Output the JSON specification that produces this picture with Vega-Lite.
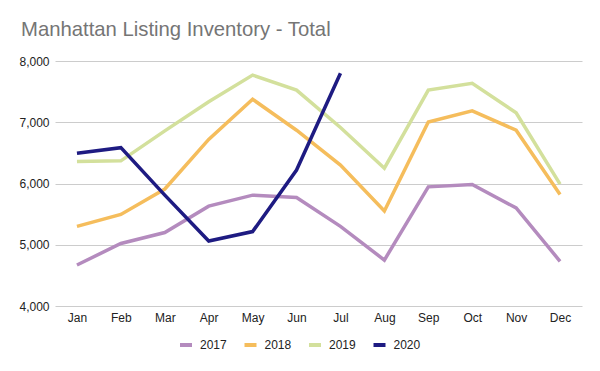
{
  "$schema": "https://vega.github.io/schema/vega-lite/v6.json",
  "width": 527,
  "height": 245,
  "autosize": {"type": "none"},
  "padding": {"left": 55, "top": 61, "right": 18, "bottom": 65},
  "background": "white",
  "title": {
    "text": "Manhattan Listing Inventory - Total",
    "anchor": "start",
    "frame": "group",
    "dx": -34,
    "offset": -1,
    "baseline": "alphabetic",
    "font": "Liberation Sans",
    "fontSize": 20.3,
    "fontWeight": "normal",
    "color": "#757575"
  },
  "config": {
    "view": {"stroke": null},
    "font": "Liberation Sans",
    "axis": {
      "labelFont": "Liberation Sans",
      "labelFontSize": 12,
      "labelColor": "#222222",
      "domain": false,
      "ticks": false,
      "gridColor": "#cccccc",
      "gridWidth": 1,
      "title": null
    },
    "legend": {
      "labelFont": "Liberation Sans",
      "labelFontSize": 12,
      "labelColor": "#222222"
    }
  },
  "data": {
    "values": [
      {"month": "Jan", "year": "2017", "value": 4670},
      {"month": "Feb", "year": "2017", "value": 5020},
      {"month": "Mar", "year": "2017", "value": 5200},
      {"month": "Apr", "year": "2017", "value": 5630},
      {"month": "May", "year": "2017", "value": 5810},
      {"month": "Jun", "year": "2017", "value": 5770},
      {"month": "Jul", "year": "2017", "value": 5300},
      {"month": "Aug", "year": "2017", "value": 4750},
      {"month": "Sep", "year": "2017", "value": 5945},
      {"month": "Oct", "year": "2017", "value": 5985},
      {"month": "Nov", "year": "2017", "value": 5600},
      {"month": "Dec", "year": "2017", "value": 4730},
      {"month": "Jan", "year": "2018", "value": 5300},
      {"month": "Feb", "year": "2018", "value": 5495},
      {"month": "Mar", "year": "2018", "value": 5910},
      {"month": "Apr", "year": "2018", "value": 6720},
      {"month": "May", "year": "2018", "value": 7375},
      {"month": "Jun", "year": "2018", "value": 6870},
      {"month": "Jul", "year": "2018", "value": 6300},
      {"month": "Aug", "year": "2018", "value": 5550},
      {"month": "Sep", "year": "2018", "value": 7005},
      {"month": "Oct", "year": "2018", "value": 7185},
      {"month": "Nov", "year": "2018", "value": 6870},
      {"month": "Dec", "year": "2018", "value": 5820},
      {"month": "Jan", "year": "2019", "value": 6360},
      {"month": "Feb", "year": "2019", "value": 6370},
      {"month": "Mar", "year": "2019", "value": 6860},
      {"month": "Apr", "year": "2019", "value": 7335},
      {"month": "May", "year": "2019", "value": 7770},
      {"month": "Jun", "year": "2019", "value": 7525},
      {"month": "Jul", "year": "2019", "value": 6915},
      {"month": "Aug", "year": "2019", "value": 6250},
      {"month": "Sep", "year": "2019", "value": 7525},
      {"month": "Oct", "year": "2019", "value": 7635},
      {"month": "Nov", "year": "2019", "value": 7155},
      {"month": "Dec", "year": "2019", "value": 5990},
      {"month": "Jan", "year": "2020", "value": 6495},
      {"month": "Feb", "year": "2020", "value": 6585},
      {"month": "Mar", "year": "2020", "value": 5810},
      {"month": "Apr", "year": "2020", "value": 5060},
      {"month": "May", "year": "2020", "value": 5215},
      {"month": "Jun", "year": "2020", "value": 6220},
      {"month": "Jul", "year": "2020", "value": 7800}
    ]
  },
  "mark": {"type": "line", "strokeWidth": 3.5, "strokeJoin": "miter", "strokeCap": "butt"},
  "encoding": {
    "x": {
      "field": "month",
      "type": "ordinal",
      "sort": ["Jan", "Feb", "Mar", "Apr", "May", "Jun", "Jul", "Aug", "Sep", "Oct", "Nov", "Dec"],
      "scale": {"type": "point", "padding": 0.5},
      "axis": {"labelAngle": 0, "labelPadding": 6, "grid": false}
    },
    "y": {
      "field": "value",
      "type": "quantitative",
      "scale": {"domain": [4000, 8000], "nice": false, "zero": false},
      "axis": {"values": [4000, 5000, 6000, 7000, 8000], "format": ",d", "labelPadding": 6, "grid": true}
    },
    "color": {
      "field": "year",
      "type": "nominal",
      "scale": {
        "domain": ["2017", "2018", "2019", "2020"],
        "range": ["#b48bbe", "#f5bd5c", "#d3e09c", "#1e1b82"]
      },
      "legend": {
        "title": null,
        "orient": "none",
        "direction": "horizontal",
        "legendX": 123,
        "legendY": 276,
        "symbolType": "stroke",
        "symbolSize": 144,
        "symbolStrokeWidth": 4,
        "labelOffset": 6,
        "columnPadding": 9.5
      }
    }
  }
}
